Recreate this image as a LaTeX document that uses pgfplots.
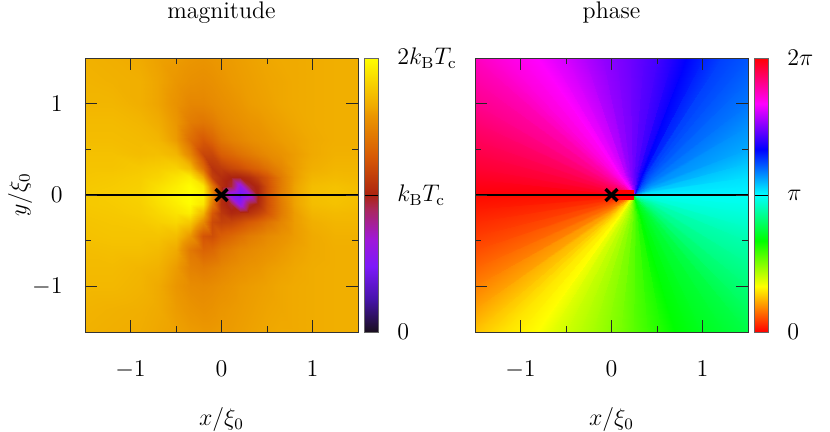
\documentclass[border=0pt,12pt]{standalone}
\usepackage{pgfplots}
\pgfplotsset{compat=1.18}
\usepackage{pgfplotstable}
\pgfplotstableread{
x y v
-1.5 -1.5 1.68
-1.2 -1.5 1.67
-0.9 -1.5 1.66
-0.7 -1.5 1.64
-0.5 -1.5 1.62
-0.35 -1.5 1.60
-0.2 -1.5 1.59
-0.1 -1.5 1.59
0 -1.5 1.60
0.1 -1.5 1.60
0.2 -1.5 1.61
0.3 -1.5 1.62
0.4 -1.5 1.63
0.5 -1.5 1.64
0.65 -1.5 1.65
0.8 -1.5 1.65
1.0 -1.5 1.66
1.25 -1.5 1.67
1.5 -1.5 1.67
-1.5 -1.25 1.69
-1.2 -1.25 1.68
-0.9 -1.25 1.67
-0.7 -1.25 1.65
-0.5 -1.25 1.60
-0.35 -1.25 1.57
-0.2 -1.25 1.55
-0.1 -1.25 1.56
0 -1.25 1.58
0.1 -1.25 1.59
0.2 -1.25 1.60
0.3 -1.25 1.61
0.4 -1.25 1.62
0.5 -1.25 1.63
0.65 -1.25 1.64
0.8 -1.25 1.65
1.0 -1.25 1.66
1.25 -1.25 1.67
1.5 -1.25 1.67
-1.5 -1.0 1.71
-1.2 -1.0 1.71
-0.9 -1.0 1.69
-0.7 -1.0 1.65
-0.5 -1.0 1.58
-0.35 -1.0 1.53
-0.2 -1.0 1.52
-0.1 -1.0 1.53
0 -1.0 1.55
0.1 -1.0 1.57
0.2 -1.0 1.59
0.3 -1.0 1.60
0.4 -1.0 1.61
0.5 -1.0 1.62
0.65 -1.0 1.64
0.8 -1.0 1.65
1.0 -1.0 1.66
1.25 -1.0 1.67
1.5 -1.0 1.67
-1.5 -0.8 1.72
-1.2 -0.8 1.72
-0.9 -0.8 1.70
-0.7 -0.8 1.68
-0.5 -0.8 1.60
-0.35 -0.8 1.48
-0.2 -0.8 1.45
-0.1 -0.8 1.47
0 -0.8 1.50
0.1 -0.8 1.53
0.2 -0.8 1.55
0.3 -0.8 1.57
0.4 -0.8 1.58
0.5 -0.8 1.60
0.65 -0.8 1.62
0.8 -0.8 1.64
1.0 -0.8 1.66
1.25 -0.8 1.67
1.5 -0.8 1.67
-1.5 -0.6 1.73
-1.2 -0.6 1.74
-0.9 -0.6 1.74
-0.7 -0.6 1.72
-0.5 -0.6 1.65
-0.35 -0.6 1.43
-0.2 -0.6 1.33
-0.1 -0.6 1.35
0 -0.6 1.42
0.1 -0.6 1.46
0.2 -0.6 1.50
0.3 -0.6 1.52
0.4 -0.6 1.54
0.5 -0.6 1.56
0.65 -0.6 1.59
0.8 -0.6 1.62
1.0 -0.6 1.65
1.25 -0.6 1.67
1.5 -0.6 1.67
-1.5 -0.45 1.75
-1.2 -0.45 1.76
-0.9 -0.45 1.76
-0.7 -0.45 1.76
-0.5 -0.45 1.73
-0.35 -0.45 1.58
-0.2 -0.45 1.25
-0.1 -0.45 1.22
0 -0.45 1.30
0.1 -0.45 1.35
0.2 -0.45 1.40
0.3 -0.45 1.45
0.4 -0.45 1.48
0.5 -0.45 1.52
0.65 -0.45 1.56
0.8 -0.45 1.60
1.0 -0.45 1.65
1.25 -0.45 1.68
1.5 -0.45 1.68
-1.5 -0.3 1.76
-1.2 -0.3 1.77
-0.9 -0.3 1.78
-0.7 -0.3 1.81
-0.5 -0.3 1.84
-0.35 -0.3 1.78
-0.2 -0.3 1.52
-0.1 -0.3 1.20
0 -0.3 1.15
0.1 -0.3 1.17
0.2 -0.3 1.22
0.3 -0.3 1.28
0.4 -0.3 1.33
0.5 -0.3 1.40
0.65 -0.3 1.50
0.8 -0.3 1.60
1.0 -0.3 1.67
1.25 -0.3 1.70
1.5 -0.3 1.70
-1.5 -0.2 1.77
-1.2 -0.2 1.78
-0.9 -0.2 1.80
-0.7 -0.2 1.84
-0.5 -0.2 1.89
-0.35 -0.2 1.93
-0.2 -0.2 1.70
-0.1 -0.2 1.28
0 -0.2 1.10
0.1 -0.2 1.02
0.2 -0.2 1.05
0.3 -0.2 1.08
0.4 -0.2 1.15
0.5 -0.2 1.25
0.65 -0.2 1.45
0.8 -0.2 1.60
1.0 -0.2 1.70
1.25 -0.2 1.72
1.5 -0.2 1.71
-1.5 -0.1 1.78
-1.2 -0.1 1.79
-0.9 -0.1 1.81
-0.7 -0.1 1.87
-0.5 -0.1 1.93
-0.35 -0.1 1.99
-0.2 -0.1 1.90
-0.1 -0.1 1.45
0 -0.1 1.05
0.1 -0.1 0.95
0.2 -0.1 0.58
0.3 -0.1 0.95
0.4 -0.1 1.03
0.5 -0.1 1.22
0.65 -0.1 1.45
0.8 -0.1 1.62
1.0 -0.1 1.73
1.25 -0.1 1.75
1.5 -0.1 1.73
-1.5 0 1.78
-1.2 0 1.80
-0.9 0 1.82
-0.7 0 1.89
-0.5 0 1.96
-0.35 0 2.00
-0.2 0 1.96
-0.1 0 1.55
0 0 1.05
0.1 0 0.55
0.2 0 0.42
0.3 0 0.60
0.4 0 1.00
0.5 0 1.22
0.65 0 1.47
0.8 0 1.62
1.0 0 1.74
1.25 0 1.76
1.5 0 1.74
-1.5 0.1 1.78
-1.2 0.1 1.79
-0.9 0.1 1.81
-0.7 0.1 1.87
-0.5 0.1 1.93
-0.35 0.1 1.99
-0.2 0.1 1.90
-0.1 0.1 1.45
0 0.1 1.05
0.1 0.1 0.95
0.2 0.1 0.58
0.3 0.1 0.95
0.4 0.1 1.03
0.5 0.1 1.22
0.65 0.1 1.45
0.8 0.1 1.62
1.0 0.1 1.73
1.25 0.1 1.75
1.5 0.1 1.73
-1.5 0.2 1.77
-1.2 0.2 1.78
-0.9 0.2 1.80
-0.7 0.2 1.83
-0.5 0.2 1.89
-0.35 0.2 1.93
-0.2 0.2 1.65
-0.1 0.2 1.15
0 0.2 1.05
0.1 0.2 1.00
0.2 0.2 1.00
0.3 0.2 1.05
0.4 0.2 1.15
0.5 0.2 1.25
0.65 0.2 1.45
0.8 0.2 1.60
1.0 0.2 1.70
1.25 0.2 1.72
1.5 0.2 1.71
-1.5 0.3 1.76
-1.2 0.3 1.76
-0.9 0.3 1.78
-0.7 0.3 1.80
-0.5 0.3 1.82
-0.35 0.3 1.73
-0.2 0.3 1.38
-0.1 0.3 1.08
0 0.3 1.12
0.1 0.3 1.18
0.2 0.3 1.22
0.3 0.3 1.28
0.4 0.3 1.33
0.5 0.3 1.40
0.65 0.3 1.50
0.8 0.3 1.60
1.0 0.3 1.67
1.25 0.3 1.70
1.5 0.3 1.70
-1.5 0.45 1.75
-1.2 0.45 1.75
-0.9 0.45 1.73
-0.7 0.45 1.74
-0.5 0.45 1.70
-0.35 0.45 1.50
-0.2 0.45 1.18
-0.1 0.45 1.18
0 0.45 1.30
0.1 0.45 1.35
0.2 0.45 1.40
0.3 0.45 1.44
0.4 0.45 1.48
0.5 0.45 1.52
0.65 0.45 1.56
0.8 0.45 1.60
1.0 0.45 1.65
1.25 0.45 1.68
1.5 0.45 1.68
-1.5 0.6 1.73
-1.2 0.6 1.73
-0.9 0.6 1.72
-0.7 0.6 1.70
-0.5 0.6 1.60
-0.35 0.6 1.38
-0.2 0.6 1.27
-0.1 0.6 1.33
0 0.6 1.42
0.1 0.6 1.47
0.2 0.6 1.50
0.3 0.6 1.53
0.4 0.6 1.55
0.5 0.6 1.57
0.65 0.6 1.60
0.8 0.6 1.62
1.0 0.6 1.65
1.25 0.6 1.67
1.5 0.6 1.67
-1.5 0.8 1.72
-1.2 0.8 1.72
-0.9 0.8 1.70
-0.7 0.8 1.66
-0.5 0.8 1.58
-0.35 0.8 1.45
-0.2 0.8 1.42
-0.1 0.8 1.45
0 0.8 1.50
0.1 0.8 1.53
0.2 0.8 1.55
0.3 0.8 1.57
0.4 0.8 1.58
0.5 0.8 1.60
0.65 0.8 1.62
0.8 0.8 1.64
1.0 0.8 1.66
1.25 0.8 1.67
1.5 0.8 1.67
-1.5 1.0 1.70
-1.2 1.0 1.70
-0.9 1.0 1.67
-0.7 1.0 1.63
-0.5 1.0 1.56
-0.35 1.0 1.50
-0.2 1.0 1.50
-0.1 1.0 1.52
0 1.0 1.54
0.1 1.0 1.56
0.2 1.0 1.58
0.3 1.0 1.60
0.4 1.0 1.61
0.5 1.0 1.62
0.65 1.0 1.64
0.8 1.0 1.65
1.0 1.0 1.66
1.25 1.0 1.67
1.5 1.0 1.67
-1.5 1.25 1.69
-1.2 1.25 1.68
-0.9 1.25 1.67
-0.7 1.25 1.63
-0.5 1.25 1.58
-0.35 1.25 1.55
-0.2 1.25 1.54
-0.1 1.25 1.55
0 1.25 1.57
0.1 1.25 1.59
0.2 1.25 1.60
0.3 1.25 1.61
0.4 1.25 1.62
0.5 1.25 1.63
0.65 1.25 1.64
0.8 1.25 1.65
1.0 1.25 1.66
1.25 1.25 1.67
1.5 1.25 1.67
-1.5 1.5 1.68
-1.2 1.5 1.67
-0.9 1.5 1.65
-0.7 1.5 1.62
-0.5 1.5 1.60
-0.35 1.5 1.58
-0.2 1.5 1.57
-0.1 1.5 1.58
0 1.5 1.59
0.1 1.5 1.60
0.2 1.5 1.61
0.3 1.5 1.62
0.4 1.5 1.63
0.5 1.5 1.64
0.65 1.5 1.65
0.8 1.5 1.65
1.0 1.5 1.66
1.25 1.5 1.67
1.5 1.5 1.67
}\magdata
\pgfplotstableread{
x y h
0.245 0 182
0.433 0 182
1.5 0 182
0.245 0 184.5
0.433 0.015 184.5
1.5 0.1 184.5
0.245 0 187
0.433 0.03 187
1.5 0.2 187
0.245 0 193.5
0.433 0.053 193.5
1.5 0.35 193.5
0.245 0 200
0.433 0.075 200
1.5 0.5 200
0.245 0 206
0.433 0.113 206
1.5 0.75 206
0.245 0 212
0.433 0.15 212
1.5 1.0 212
0.245 0 216
0.433 0.188 216
1.5 1.25 216
0.245 0 220
0.433 0.225 220
1.5 1.5 220
0.245 0 222.5
0.411 0.225 222.5
1.35 1.5 222.5
0.245 0 225
0.388 0.225 225
1.2 1.5 225
0.245 0 232.5
0.360 0.225 232.5
1.01 1.5 232.5
0.245 0 240
0.331 0.225 240
0.82 1.5 240
0.245 0 248
0.307 0.225 248
0.66 1.5 248
0.245 0 256
0.283 0.225 256
0.5 1.5 256
0.245 0 261
0.261 0.225 261
0.35 1.5 261
0.245 0 266
0.238 0.225 266
0.2 1.5 266
0.245 0 270.5
0.216 0.225 270.5
0.05 1.5 270.5
0.245 0 275
0.193 0.225 275
-0.1 1.5 275
0.245 0 282.5
0.163 0.225 282.5
-0.3 1.5 282.5
0.245 0 290
0.133 0.225 290
-0.5 1.5 290
0.245 0 295
0.109 0.225 295
-0.66 1.5 295
0.245 0 300
0.085 0.225 300
-0.82 1.5 300
0.245 0 304
0.057 0.225 304
-1.01 1.5 304
0.245 0 308
0.028 0.225 308
-1.2 1.5 308
0.245 0 311.5
0.006 0.225 311.5
-1.35 1.5 311.5
0.245 0 315
-0.017 0.225 315
-1.5 1.5 315
0.245 0 321
-0.017 0.188 321
-1.5 1.25 321
0.245 0 327
-0.017 0.15 327
-1.5 1.0 327
0.245 0 333
-0.017 0.12 333
-1.5 0.8 333
0.245 0 339
-0.017 0.09 339
-1.5 0.6 339
0.245 0 343.5
-0.017 0.068 343.5
-1.5 0.45 343.5
0.245 0 348
-0.017 0.045 348
-1.5 0.3 348
0.245 0 352.5
-0.017 0.026 352.5
-1.5 0.175 352.5
0.245 0 357
-0.017 0.008 357
-1.5 0.05 357
0.245 0 360
-0.017 0 360
-1.5 0 360
}\phasetop
\pgfplotstableread{
x y h
0.245 0 2
-0.017 0 2
-1.5 0 2
0.245 0 6
-0.017 -0.023 6
-1.5 -0.15 6
0.245 0 10
-0.017 -0.045 10
-1.5 -0.3 10
0.245 0 14
-0.017 -0.068 14
-1.5 -0.45 14
0.245 0 18
-0.017 -0.09 18
-1.5 -0.6 18
0.245 0 24
-0.017 -0.12 24
-1.5 -0.8 24
0.245 0 30
-0.017 -0.15 30
-1.5 -1.0 30
0.245 0 38
-0.017 -0.188 38
-1.5 -1.25 38
0.245 0 46
-0.017 -0.225 46
-1.5 -1.5 46
0.245 0 49.5
0.006 -0.225 49.5
-1.35 -1.5 49.5
0.245 0 53
0.028 -0.225 53
-1.2 -1.5 53
0.245 0 56.5
0.057 -0.225 56.5
-1.01 -1.5 56.5
0.245 0 60
0.085 -0.225 60
-0.82 -1.5 60
0.245 0 66
0.109 -0.225 66
-0.66 -1.5 66
0.245 0 72
0.133 -0.225 72
-0.5 -1.5 72
0.245 0 76.5
0.156 -0.225 76.5
-0.35 -1.5 76.5
0.245 0 81
0.178 -0.225 81
-0.2 -1.5 81
0.245 0 86.5
0.201 -0.225 86.5
-0.05 -1.5 86.5
0.245 0 92
0.223 -0.225 92
0.1 -1.5 92
0.245 0 99
0.246 -0.225 99
0.25 -1.5 99
0.245 0 106
0.268 -0.225 106
0.4 -1.5 106
0.245 0 113
0.291 -0.225 113
0.55 -1.5 113
0.245 0 120
0.313 -0.225 120
0.7 -1.5 120
0.245 0 123.5
0.336 -0.225 123.5
0.85 -1.5 123.5
0.245 0 127
0.358 -0.225 127
1.0 -1.5 127
0.245 0 131.5
0.396 -0.225 131.5
1.25 -1.5 131.5
0.245 0 136
0.433 -0.225 136
1.5 -1.5 136
0.245 0 142
0.433 -0.188 142
1.5 -1.25 142
0.245 0 148
0.433 -0.15 148
1.5 -1.0 148
0.245 0 154.5
0.433 -0.113 154.5
1.5 -0.75 154.5
0.245 0 161
0.433 -0.075 161
1.5 -0.5 161
0.245 0 166.5
0.433 -0.053 166.5
1.5 -0.35 166.5
0.245 0 172
0.433 -0.03 172
1.5 -0.2 172
0.245 0 175
0.433 -0.015 175
1.5 -0.1 175
0.245 0 178
0.433 0 178
1.5 0 178
}\phasebot
\pgfplotsset{
  panel/.style={
    at={(#1,50pt)}, anchor=south west,
    scale only axis, width=136.5pt, height=137pt,
    xmin=-1.5, xmax=1.5, ymin=-1.5, ymax=1.5,
    xtick={-1,0,1}, ytick={-1,0,1},
    minor xtick={-0.5,0.5}, minor ytick={-0.5,0.5},
    major tick length=6pt, minor tick length=3pt,
    tick align=inside, tick pos=both,
    xticklabel pos=lower,
    tick style={black!85, line width=0.4pt},
    minor tick style={black!85, line width=0.4pt},
    axis line style={line width=0.4pt, black!80},
    axis on top,
    xticklabel style={yshift=-10.5pt},
    yticklabel style={xshift=-7pt},
    xlabel={$x/\xi_0$},
    xlabel style={at={(axis description cs:0.5,-0.321)},anchor=center},
    title style={yshift=7pt},
    clip=true,
  },
  bar/.style={
    colorbar,
    colorbar style={
      at={(parent axis.north east)}, anchor=north west, xshift=-5.5pt,
      width=7pt, height=137pt,
      major tick length=7pt,
      tick style={black, line width=0.4pt},
      yticklabel pos=right,
      ytick pos=right,
      yticklabel style={xshift=5.5pt, anchor=west},
      axis line style={line width=0.4pt, black!60},
    },
  },
}
\begin{document}
\begin{tikzpicture}[x=1pt,y=1pt]
\path[use as bounding box] (0,0) rectangle (415,216);
\begin{axis}[panel={42.5pt}, title={magnitude}, ylabel={$y/\xi_0$},
  ylabel style={at={(axis description cs:-0.238,0.5)},anchor=center},
  colormap={mag}{rgb255(0cm)=(25,15,30); rgb255(24cm)=(70,20,170); rgb255(48cm)=(125,25,250); rgb255(68cm)=(160,25,215); rgb255(90cm)=(170,40,90); rgb255(100cm)=(172,36,16); rgb255(128cm)=(215,90,5); rgb255(158cm)=(235,150,0); rgb255(165cm)=(240,170,0); rgb255(180cm)=(247,205,0); rgb255(200cm)=(255,255,0)},
  point meta min=0, point meta max=2,
  bar,
  colorbar style={ytick={0,1,2}, yticklabels={$0$,$k_{\mathrm B}T_{\mathrm c}$,$2k_{\mathrm B}T_{\mathrm c}$}},
  ]
\addplot[surf, shader=interp, mesh/cols=19, point meta=explicit] table[x=x,y=y,meta=v]{\magdata};
\addplot[black, line width=1pt] coordinates {(-1.5,0) (1.5,0)};
\addplot[only marks, mark=x, mark size=4.2pt, mark options={line width=1.6pt, black}] coordinates {(0,0)};
\end{axis}
\begin{axis}[panel={237.5pt}, title={phase}, yticklabels={},
  colormap={hsvm}{rgb255=(255,0,0) rgb255=(255,255,0) rgb255=(0,255,0) rgb255=(0,255,255) rgb255=(0,0,255) rgb255=(255,0,255) rgb255=(255,0,0)},
  point meta min=0, point meta max=360,
  bar,
  colorbar style={ytick={0,180,360}, yticklabels={$0$,$\pi$,$2\pi$}},
  ]
\addplot[surf, shader=interp, mesh/cols=3, point meta=explicit] table[x=x,y=y,meta=h]{\phasetop};
\addplot[surf, shader=interp, mesh/cols=3, point meta=explicit] table[x=x,y=y,meta=h]{\phasebot};
\addplot[fill=red, draw=none] coordinates {(0,-0.06) (0.245,-0.06) (0.245,0.05) (0,0.05)} --cycle;
\addplot[black, line width=1pt] coordinates {(-1.5,0) (1.5,0)};
\addplot[only marks, mark=x, mark size=4.2pt, mark options={line width=1.6pt, black}] coordinates {(0,0)};
\end{axis}
\end{tikzpicture}
\end{document}
